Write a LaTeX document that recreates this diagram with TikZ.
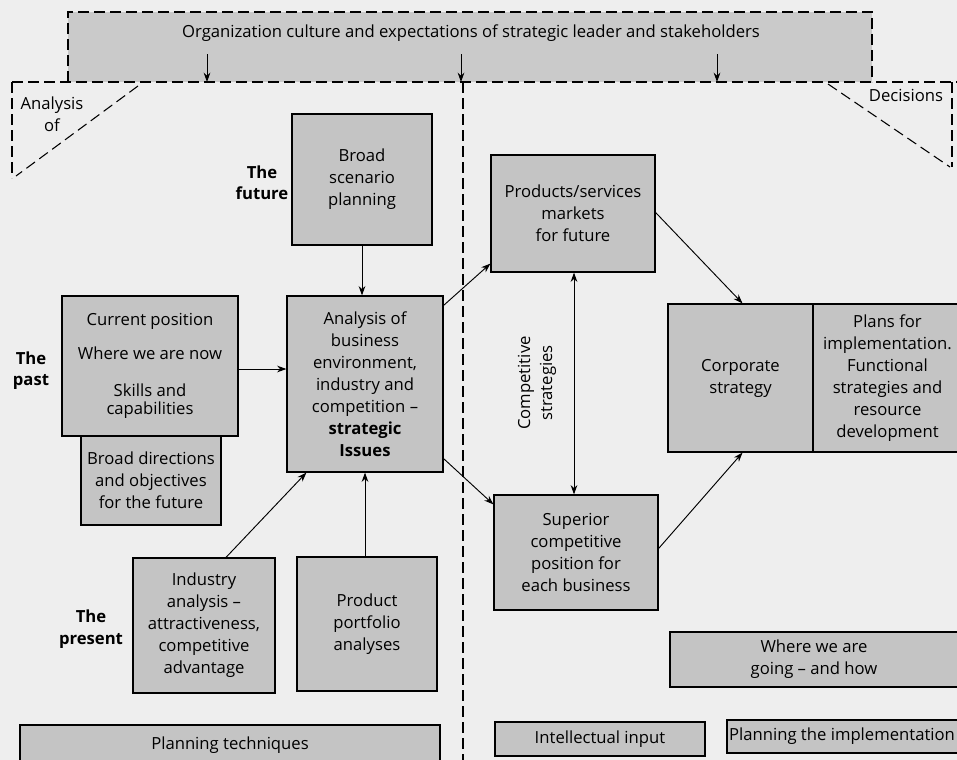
\documentclass[tikz,border=0pt]{standalone}
\usepackage{fontspec}
\setmainfont{Open Sans}
\usetikzlibrary{arrows.meta,calc}
\definecolor{paper}{HTML}{EEEEEE}
\definecolor{boxgray}{HTML}{C4C4C4}
\definecolor{topgray}{HTML}{CACACA}
\tikzset{
 box/.style={draw=black, fill=boxgray, line width=0.9pt, inner sep=0pt, align=center, font=\fontsize{12.5}{16.5}\selectfont},
 lab/.style={font=\fontsize{12.5}{16}\selectfont\bfseries, align=center, inner sep=0pt},
 plain/.style={font=\fontsize{12.5}{16.5}\selectfont, align=center, inner sep=0pt},
 dline/.style={dash pattern=on 8pt off 4pt, line width=0.8pt},
 arr/.style={-{Stealth[length=7pt,width=5pt]}, line width=0.7pt},
 darr/.style={{Stealth[length=7pt,width=5pt]}-{Stealth[length=7pt,width=5pt]}, line width=0.7pt},
}
\begin{document}
\begin{tikzpicture}[x=0.75pt,y=-0.75pt]
\fill[paper] (0,0) rectangle (957,760);
\useasboundingbox (0,0) rectangle (957,760);

% top dashed band
\fill[topgray] (68,12) rectangle (872,82);
\draw[dline] (68,82) -- (68,12) -- (872,12) -- (872,82);
\draw[dline] (12,82) -- (957,82);
\node[plain] (org) at (471,33) {Organization culture and expectations of strategic leader and stakeholders};
\coordinate (t1s) at (207,54); \coordinate (t1e) at (207,82);
\coordinate (t2s) at (461,54); \coordinate (t2e) at (461,82);
\coordinate (t3s) at (717,54); \coordinate (t3e) at (717,82);
\draw[arr] (t1s) -- (t1e);
\draw[arr] (t2s) -- (t2e);
\draw[arr] (t3s) -- (t3e);

% analysis-of corner and decisions corner
\draw[dline] (12,82) -- (12,178);
\draw[dline] (138,86) -- (16,176);
\node[plain] (anof) at (52,114) {Analysis\\of};
\draw[dline] (828,84) -- (950,167);
\draw[dline] (952,82) -- (952,167);
\node[plain] (dec) at (906,95) {Decisions};

% middle divider
\draw[dline] (463,82) -- (463,760);

% left side boxes
\node[box, minimum width=105pt, minimum height=98.25pt] (scen) at (362,179.5) {Broad\\scenario\\planning};
\node[lab] (fut) at (262,183) {The\\future};
\node[box, minimum width=132pt, minimum height=105pt] (cur) at (150,366) {Current position\\[9pt]Where we are now\\[11pt]Skills and\\[-3pt]capabilities};
\node[box, minimum width=105pt, minimum height=66.75pt] (dir) at (151,480.5) {Broad directions\\and objectives\\for the future};
\node[lab] (past) at (31,371) {The\\past};
\node[box, minimum width=117pt, minimum height=132pt] (anal) at (365,384) {Analysis of\\business\\environment,\\industry and\\competition --\\\textbf{strategic}\\\textbf{Issues}};
\node[box, minimum width=106.5pt, minimum height=101.25pt] (ind) at (204,625.5) {Industry\\analysis --\\attractiveness,\\competitive\\advantage};
\node[box, minimum width=105pt, minimum height=100.5pt] (port) at (367,624) {Product\\portfolio\\analyses};
\node[lab] (pres) at (91,629) {The\\present};
\node[box, minimum width=315pt, minimum height=37.5pt] (tech) at (230,750) {};
\node[plain] (techt) at (230,745) {Planning techniques};

% right side boxes
\node[box, minimum width=123pt, minimum height=87.75pt] (prod) at (573,213.5) {Products/services\\markets\\for future};
\node[box, minimum width=123pt, minimum height=86.25pt] (sup) at (576,552.5) {Superior\\competitive\\position for\\each business};
\node[plain, rotate=90] (comp) at (537,383) {Competitive\\strategies};
\node[box, minimum width=108.75pt, minimum height=111pt] (corp) at (740.5,378) {Corporate\\strategy};
\node[box, minimum width=111.75pt, minimum height=111pt] (plans) at (887.5,378) {Plans for\\implementation.\\Functional\\strategies and\\resource\\development};
\node[box, minimum width=219pt, minimum height=41.25pt] (where) at (816,659.5) {};
\node[plain] (wheret) at (814,659) {Where we are\\going -- and how};
\node[box, minimum width=157.5pt, minimum height=25.5pt] (intel) at (600,739) {Intellectual input};
\node[box, minimum width=176.25pt, minimum height=24.75pt] (impl) at (844.5,736.5) {};
\node[plain] (implt) at (842,736) {Planning the implementation};

% connectors
\draw[arr] (scen.south) -- (scen.south |- anal.north);
\draw[arr] (cur.east |- 0,369) -- (anal.west |- 0,369);
\draw[arr] ($(ind.north)+(22,0)$) -- ($(anal.south west)+(20,0)$);
\draw[arr] (port.north -| 365,0) -- (anal.south -| 365,0);
\draw[arr] ($(anal.north east)+(0,10)$) -- ($(prod.south west)+(0,-9)$);
\draw[arr] ($(anal.south east)+(0,-14)$) -- ($(sup.north west)+(0,10)$);
\draw[darr] (prod.south -| 574,0) -- (sup.north -| 574,0);
\draw[arr] ($(prod.east)+(0,-1)$) -- ($(corp.north)+(2,0)$);
\draw[arr] ($(sup.east)+(0,-4)$) -- ($(corp.south)+(2,0)$);
\end{tikzpicture}
\end{document}
